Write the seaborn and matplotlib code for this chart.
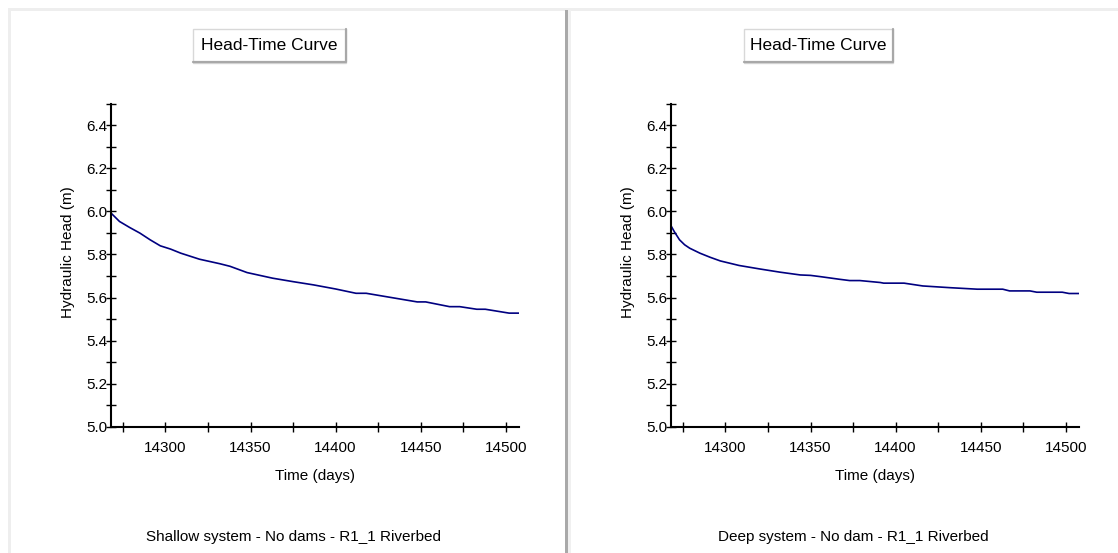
import numpy as np
import pandas as pd
import seaborn as sns
import matplotlib
matplotlib.use("Agg")
import matplotlib.pyplot as plt
from matplotlib.patches import Rectangle
from matplotlib.lines import Line2D
from matplotlib.ticker import FixedLocator

# ---------------- data ----------------
shallow_time = [14268, 14273, 14279, 14285, 14291, 14297, 14303, 14309, 14320, 14332,
                14338, 14348, 14363, 14375, 14387, 14400, 14412, 14418, 14433, 14448,
                14453, 14467, 14473, 14483, 14488, 14502, 14508]
shallow_head = [5.992, 5.953, 5.925, 5.899, 5.868, 5.840, 5.825, 5.806, 5.778, 5.757,
                5.745, 5.716, 5.690, 5.674, 5.659, 5.640, 5.620, 5.620, 5.600, 5.580,
                5.580, 5.558, 5.558, 5.546, 5.546, 5.528, 5.528]

deep_time = [14268, 14270, 14273, 14276, 14279, 14285, 14291, 14297, 14308, 14320,
             14332, 14344, 14350, 14356, 14367, 14373, 14379, 14391, 14393, 14405,
             14416, 14432, 14448, 14463, 14467, 14479, 14483, 14498, 14502, 14508]
deep_head = [5.933, 5.905, 5.868, 5.845, 5.829, 5.806, 5.787, 5.770, 5.749, 5.733,
             5.718, 5.705, 5.703, 5.697, 5.685, 5.679, 5.679, 5.670, 5.667, 5.667,
             5.654, 5.646, 5.639, 5.639, 5.631, 5.631, 5.625, 5.625, 5.619, 5.619]

panel_titles = ["Head-Time Curve", "Head-Time Curve"]
panel_captions = ["Shallow system - No dams - R1_1 Riverbed",
                  "Deep system - No dam - R1_1 Riverbed"]
x_label = "Time (days)"
y_label = "Hydraulic Head (m)"
x_major = [14300, 14350, 14400, 14450, 14500]
x_minor = [14275, 14325, 14375, 14425, 14475]
y_major = [5.0, 5.2, 5.4, 5.6, 5.8, 6.0, 6.2, 6.4]
y_minor = [5.1, 5.3, 5.5, 5.7, 5.9, 6.1, 6.3, 6.5]

# ---------------- style ----------------
sns.set_theme(style="white")
plt.rcParams['font.family'] = ['Liberation Sans', 'DejaVu Sans']

W, H = 1118, 553
fig = plt.figure(figsize=(W / 100, H / 100), dpi=100)
fig.patch.set_facecolor("white")

def fx(x):
    return x / W

def fy(y):
    return 1 - y / H

def px_rect(x0, y0, x1, y1, **kw):
    r = Rectangle((fx(x0), fy(y1)), fx(x1) - fx(x0), fy(y0) - fy(y1),
                  transform=fig.transFigure, **kw)
    fig.add_artist(r)

# frame decoration
px_rect(8, 8, W, 11, facecolor="#eeeeee", edgecolor="none", zorder=0)
px_rect(8, 8, 11, H, facecolor="#eeeeee", edgecolor="none", zorder=0)
px_rect(565, 10, 568, H, facecolor="#a9a9a9", edgecolor="none", zorder=0)
px_rect(568, 10, 571, H, facecolor="#f0f0f0", edgecolor="none", zorder=0)

datasets = [
    pd.DataFrame({"Time": shallow_time, "Head": shallow_head}),
    pd.DataFrame({"Time": deep_time, "Head": deep_head}),
]

axes_left_px = [111, 671]
ax_w_px = 408.3
ax_top_px, ax_bot_px = 103.5, 427
title_boxes = [(193, 29, 346, 63), (744, 29, 893, 63)]
caption_x = [294, 853]

for i, df in enumerate(datasets):
    l = axes_left_px[i]
    ax = fig.add_axes([fx(l), fy(ax_bot_px), ax_w_px / W, (ax_bot_px - ax_top_px) / H])
    ax.set_facecolor("none")
    sns.lineplot(data=df, x="Time", y="Head", ax=ax, color="#000080", linewidth=1.2)
    ax.set_xlim(14268, 14508)
    ax.set_ylim(5.0, 6.5)
    ax.xaxis.set_major_locator(FixedLocator(x_major))
    ax.xaxis.set_minor_locator(FixedLocator(x_minor))
    ax.yaxis.set_major_locator(FixedLocator(y_major))
    ax.yaxis.set_minor_locator(FixedLocator(y_minor))
    ax.set_yticklabels([f"{v:.1f}" for v in y_major])
    ax.set_xticklabels([str(v) for v in x_major])
    for s in ["top", "right"]:
        ax.spines[s].set_visible(False)
    for s in ["left", "bottom"]:
        ax.spines[s].set_color("black")
        ax.spines[s].set_linewidth(1.5)
    ax.tick_params(axis="both", which="both", direction="inout", length=6.5,
                   width=1.0, color="black", labelsize=11, labelcolor="black")
    ax.tick_params(axis="y", which="both", pad=-0.5, left=True)
    ax.tick_params(axis="x", which="both", pad=7, bottom=True)
    ax.set_xlabel(x_label, fontsize=11, color="black", labelpad=10)
    ax.set_ylabel(y_label, fontsize=11, color="black")
    ax.yaxis.set_label_coords(-36 / ax_w_px, 0.54)
    ax.grid(False)

    # title box (raised button look)
    x0, y0, x1, y1 = title_boxes[i]
    px_rect(x0, y0, x1, y1, facecolor="white", edgecolor="#d8d8d8", linewidth=1.0, zorder=2)
    fig.add_artist(Line2D([fx(x0), fx(x1), fx(x1)], [fy(y1 - 1), fy(y1 - 1), fy(y0)],
                          transform=fig.transFigure, color="#a8a8a8", linewidth=1.6, zorder=3))
    fig.text(fx((x0 + x1) / 2), fy((y0 + y1) / 2), panel_titles[i], ha="center", va="center",
             fontsize=12.5, color="black", zorder=4)

    fig.text(fx(caption_x[i]), fy(537), panel_captions[i], ha="center", va="center",
             fontsize=11, color="black")

fig.savefig("out.png", dpi=100, facecolor="white")
